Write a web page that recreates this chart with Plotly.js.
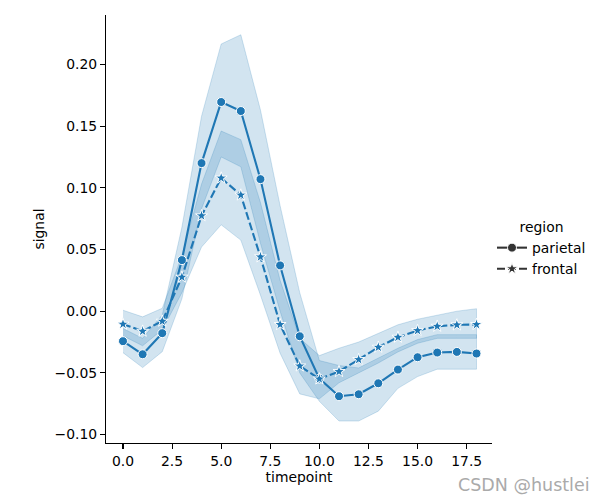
<!DOCTYPE html>
<html>
<head>
<meta charset="utf-8">
<script src="https://cdn.plot.ly/plotly-3.0.1.min.js"></script>
<style>html,body{margin:0;padding:0;background:#fff;}#chart{width:603px;height:500px;}</style>
</head>
<body>
<div id="chart"></div>
<script>
var timepoints = [0,1,2,3,4,5,6,7,8,9,10,11,12,13,14,15,16,17,18];
var parietal = [-0.0243,-0.0349,-0.0178,0.0414,0.120,0.1695,0.1622,0.107,0.0371,-0.0203,-0.0546,-0.0689,-0.0673,-0.0584,-0.0473,-0.0373,-0.0335,-0.0330,-0.0343];
var parietalUpper = [-0.014,-0.022,-0.003,0.068,0.158,0.2165,0.224,0.163,0.0855,0.015,-0.040,-0.044,-0.046,-0.038,-0.030,-0.023,-0.019,-0.019,-0.019];
var parietalLower = [-0.0336,-0.0457,-0.0328,0.010,0.083,0.125,0.117,0.055,0.0,-0.050,-0.073,-0.089,-0.089,-0.081,-0.0625,-0.053,-0.047,-0.047,-0.047];
var frontal = [-0.0105,-0.0162,-0.0081,0.0276,0.0773,0.1079,0.0941,0.0440,-0.0108,-0.0444,-0.0549,-0.0489,-0.0392,-0.0292,-0.0211,-0.0157,-0.0122,-0.0111,-0.0108];
var frontalUpper = [0.0008,-0.0046,0.0024,0.045,0.103,0.146,0.139,0.088,0.025,-0.022,-0.036,-0.030,-0.025,-0.018,-0.011,-0.0065,-0.003,0.0,0.002];
var frontalLower = [-0.020,-0.028,-0.015,0.015,0.052,0.070,0.0576,0.013,-0.034,-0.067,-0.071,-0.058,-0.050,-0.042,-0.033,-0.026,-0.022,-0.022,-0.022];
var regions = ["parietal","frontal"];
var xTickVals = [0,2.5,5,7.5,10,12.5,15,17.5];
var xTickText = ["0.0","2.5","5.0","7.5","10.0","12.5","15.0","17.5"];
var yTickVals = [-0.10,-0.05,0.00,0.05,0.10,0.15,0.20];
var yTickText = ["\u22120.10","\u22120.05","0.00","0.05","0.10","0.15","0.20"];

var BLUE = "#1f77b4";
var BAND = "rgba(31,119,180,0.2)";
var FONT = "DejaVu Sans, sans-serif";
var FS = 13.9;

function band(upper, lower) {
  var xs = timepoints.concat(timepoints.slice().reverse());
  var ys = upper.concat(lower.slice().reverse());
  return {x: xs, y: ys, type: "scatter", mode: "lines", fill: "toself",
    fillcolor: BAND, line: {color: BAND, width: 1}, showlegend: false, hoverinfo: "skip"};
}
function meanTrace(vals, dash, symbol, size) {
  return {x: timepoints, y: vals, type: "scatter", mode: "lines+markers",
    line: {color: BLUE, width: 2.1, dash: dash},
    marker: {symbol: symbol, size: size, color: BLUE, line: {color: "#ffffff", width: 1}},
    showlegend: false};
}
function legendTrace(name, dash, symbol, size) {
  return {x: [null], y: [null], type: "scatter", mode: "lines+markers", name: name,
    line: {color: "#333333", width: 2.1, dash: dash},
    marker: {symbol: symbol, size: size, color: "#333333", line: {color: "#ffffff", width: 1}}};
}

var data = [
  band(parietalUpper, parietalLower),
  band(frontalUpper, frontalLower),
  meanTrace(parietal, "solid", "circle", 9),
  meanTrace(frontal, "8px,3px", "star", 9),
  legendTrace(regions[0], "solid", "circle", 9),
  legendTrace(regions[1], "8px,3px", "star", 9)
];

var layout = {
  width: 603, height: 500,
  margin: {l: 105.5, r: 111, t: 15, b: 57.3, pad: 0},
  paper_bgcolor: "#ffffff", plot_bgcolor: "#ffffff",
  font: {family: FONT, size: FS, color: "#000000"},
  showlegend: true,
  xaxis: {
    range: [-0.865, 18.79], showgrid: false, zeroline: false,
    showline: true, linecolor: "#000000", linewidth: 1.1,
    ticks: "outside", ticklen: 5, tickwidth: 1.1, tickcolor: "#000000",
    tickmode: "array", tickvals: xTickVals, ticktext: xTickText,
    tickfont: {family: FONT, size: FS, color: "#000000"},
    title: {text: "timepoint", font: {family: FONT, size: FS, color: "#000000"}, standoff: 4},
    automargin: false
  },
  yaxis: {
    range: [-0.1068, 0.240], showgrid: false, zeroline: false,
    showline: true, linecolor: "#000000", linewidth: 1.1,
    ticks: "outside", ticklen: 5, tickwidth: 1.1, tickcolor: "#000000",
    tickmode: "array", tickvals: yTickVals, ticktext: yTickText,
    tickfont: {family: FONT, size: FS, color: "#000000"},
    title: {text: "signal", font: {family: FONT, size: FS, color: "#000000"}, standoff: 6},
    automargin: false
  },
  legend: {
    x: 1.0, xanchor: "left", y: 0.452, yanchor: "middle",
    bgcolor: "rgba(0,0,0,0)", borderwidth: 0,
    font: {family: FONT, size: FS, color: "#000000"},
    title: {text: "region", side: "top center", font: {family: FONT, size: FS, color: "#000000"}},
    tracegroupgap: 0
  },
  annotations: [{
    text: "CSDN @hustlei", xref: "paper", yref: "paper", x: 1, y: 0,
    xanchor: "right", yanchor: "middle", xshift: 100, yshift: -42,
    showarrow: false, font: {family: FONT, size: 17.5, color: "#aaaaaa"}
  }]
};

Plotly.newPlot("chart", data, layout, {displayModeBar: false, staticPlot: true});
</script>
</body>
</html>
